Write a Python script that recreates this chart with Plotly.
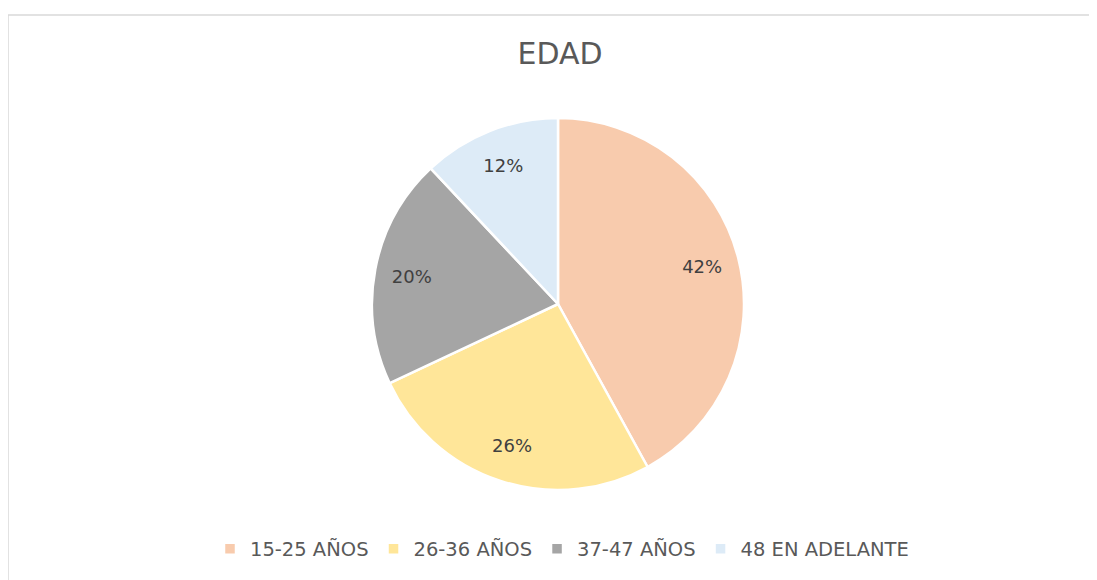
import plotly.graph_objects as go

W, H = 1097, 580
OFF = 8  # page margin of the html body

labels = ["15-25 AÑOS", "26-36 AÑOS", "37-47 AÑOS", "48 EN ADELANTE"]
values = [42, 26, 20, 12]
colors = ["#F8CBAD", "#FFE699", "#A5A5A5", "#DDEBF7"]

TEXT = "#595959"
FONT = "DejaVu Sans"


def px_x(p):
    return (p - OFF) / W


def px_y(p):
    return 1 - (p - OFF) / H


cx, cy, r = 558, 304, 186
domain = dict(x=[px_x(cx - r), px_x(cx + r)], y=[px_y(cy + r), px_y(cy - r)])

fig = go.Figure()
fig.add_trace(
    go.Pie(
        labels=labels,
        values=values,
        sort=False,
        direction="clockwise",
        rotation=0,
        marker=dict(colors=colors, line=dict(color="white", width=2.5)),
        textinfo="none",
        domain=domain,
        hoverinfo="label+percent",
    )
)
# transparent ring only carries the labels, so they sit out toward the rim
fig.add_trace(
    go.Pie(
        labels=labels,
        values=values,
        sort=False,
        direction="clockwise",
        rotation=0,
        hole=0.6,
        marker=dict(colors=["rgba(0,0,0,0)"] * len(values), line=dict(width=0)),
        texttemplate="%{percent:.0%}",
        textposition="inside",
        insidetextorientation="horizontal",
        textfont=dict(color="#404040", size=18, family=FONT),
        domain=domain,
        showlegend=False,
        hoverinfo="skip",
    )
)

fig.update_layout(
    width=W,
    height=H,
    margin=dict(l=0, r=0, t=0, b=0),
    paper_bgcolor="white",
    font=dict(family=FONT, color=TEXT),
    title=dict(
        text="EDAD",
        x=px_x(560),
        xanchor="center",
        y=px_y(53),
        yanchor="middle",
        font=dict(size=30, color=TEXT, family=FONT),
    ),
    legend=dict(
        orientation="h",
        x=px_x(562),
        xanchor="center",
        y=px_y(549),
        yanchor="middle",
        font=dict(size=19.5, color=TEXT, family=FONT),
        itemwidth=30,
        traceorder="normal",
    ),
    shapes=[
        dict(
            type="rect",
            xref="paper",
            yref="paper",
            x0=px_x(8),
            y0=-0.05,
            x1=1.05,
            y1=px_y(15),
            line=dict(color="#D9D9D9", width=1.5),
            fillcolor="rgba(0,0,0,0)",
            layer="below",
        )
    ],
)

fig.write_html("out.html")
